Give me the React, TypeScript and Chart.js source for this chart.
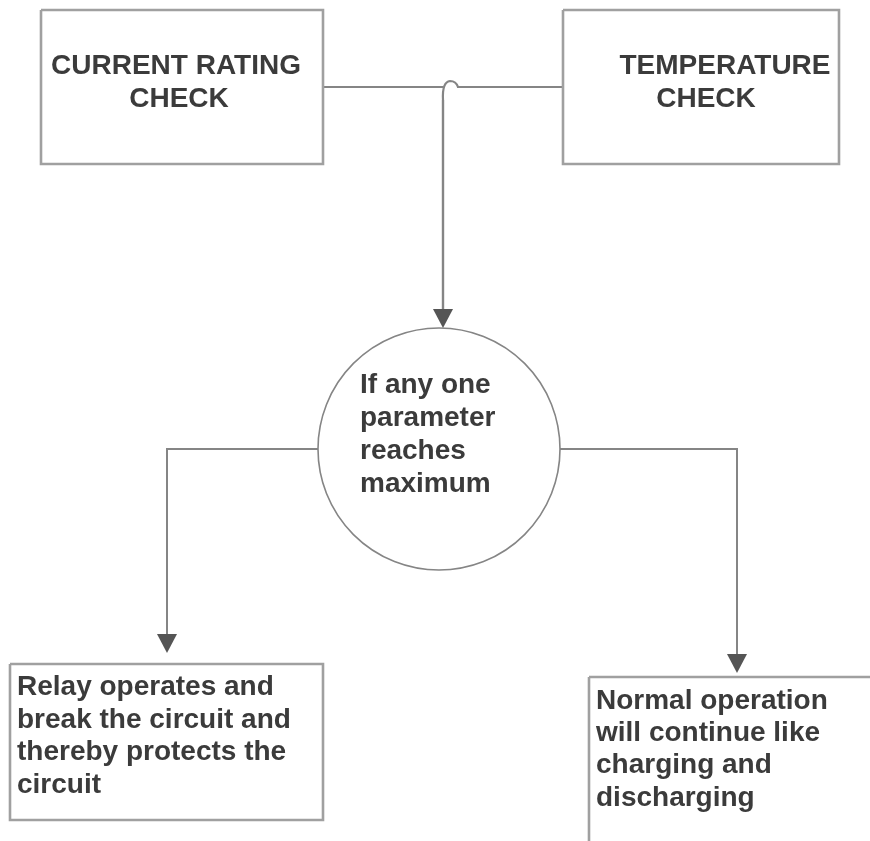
import React, { useEffect, useRef } from 'react';
import { Chart, registerables } from 'chart.js';

Chart.register(...registerables);

const W = 870;
const H = 841;

// Process boxes (diagram units = pixels of the 870x841 sheet)
const boxNames = ['current', 'temperature', 'relay', 'normal'];
const boxX1 = [41, 563, 10, 589];
const boxY1 = [10, 10, 664, 677];
const boxX2 = [323, 839, 323, 885];
const boxY2 = [164, 164, 820, 860];

// Decision circle
const circleCenter = [439, 449];
const circleRadius = 121;

// Connectors (polylines)
const linkLeftX = [323, 443];
const linkLeftY = [87, 87];
const linkRightX = [457, 563];
const linkRightY = [87, 87];
// line hop: start on drop, control, crest, control, end on link
const hopX = [443, 442, 450, 456, 458];
const hopY = [100, 82, 81, 81, 87];
const dropX = [443, 443];
const dropY = [100, 312];
const branchLeftX = [318, 167, 167];
const branchLeftY = [449, 449, 637];
const branchRightX = [560, 737, 737];
const branchRightY = [449, 449, 657];

// Arrow tips
const arrowX = [443, 167, 737];
const arrowY = [328, 653, 673];

// Labels
const labelText = [
  'CURRENT RATING', 'CHECK',
  'TEMPERATURE', 'CHECK',
  'If any one', 'parameter', 'reaches', 'maximum',
  'Relay operates and', 'break the circuit and', 'thereby protects the', 'circuit',
  'Normal operation', 'will continue like', 'charging and', 'discharging',
];
const labelX = [
  176, 179,
  725, 706,
  360, 360, 360, 360,
  17, 17, 17, 17,
  596, 596, 596, 596,
];
const labelY = [
  74, 107,
  74, 107,
  393, 426, 459, 492,
  695, 728, 760, 793,
  709, 741, 773, 806,
];
const labelAlign = [
  'center', 'center',
  'center', 'center',
  'left', 'left', 'left', 'left',
  'left', 'left', 'left', 'left',
  'left', 'left', 'left', 'left',
];

const LINE = '#858585';
const BOX = '#a0a0a0';
const TEXT = '#3b3b3b';

function pts(xs: number[], ys: number[]) {
  return xs.map((x, i) => ({ x, y: ys[i] }));
}

function rect(i: number) {
  return [
    { x: boxX1[i], y: boxY1[i] },
    { x: boxX2[i], y: boxY1[i] },
    { x: boxX2[i], y: boxY2[i] },
    { x: boxX1[i], y: boxY2[i] },
    { x: boxX1[i], y: boxY1[i] },
  ];
}

const diagramPlugin = {
  id: 'diagram',
  afterDatasetsDraw(chart: any) {
    const ctx = chart.ctx;
    const xs = chart.scales.x;
    const ys = chart.scales.y;
    const px = (v: number) => xs.getPixelForValue(v);
    const py = (v: number) => ys.getPixelForValue(v);
    ctx.save();

    // decision circle
    const cx = px(circleCenter[0]);
    const cy = py(circleCenter[1]);
    const r = px(circleCenter[0] + circleRadius) - cx;
    ctx.beginPath();
    ctx.arc(cx, cy, r, 0, Math.PI * 2);
    ctx.strokeStyle = LINE;
    ctx.lineWidth = 1.6;
    ctx.stroke();

    // line hop
    ctx.beginPath();
    ctx.moveTo(px(hopX[0]), py(hopY[0]));
    ctx.quadraticCurveTo(px(hopX[1]), py(hopY[1]), px(hopX[2]), py(hopY[2]));
    ctx.quadraticCurveTo(px(hopX[3]), py(hopY[3]), px(hopX[4]), py(hopY[4]));
    ctx.lineWidth = 2.2;
    ctx.stroke();

    // arrow heads
    ctx.fillStyle = '#555555';
    for (let i = 0; i < arrowX.length; i++) {
      const ax = px(arrowX[i]);
      const ay = py(arrowY[i]);
      ctx.beginPath();
      ctx.moveTo(ax, ay);
      ctx.lineTo(ax - 10, ay - 19);
      ctx.lineTo(ax + 10, ay - 19);
      ctx.closePath();
      ctx.fill();
    }

    // labels
    ctx.fillStyle = TEXT;
    ctx.font = 'bold 28px "Liberation Sans", Arial, sans-serif';
    ctx.textBaseline = 'alphabetic';
    for (let i = 0; i < labelText.length; i++) {
      ctx.textAlign = labelAlign[i];
      ctx.fillText(labelText[i], px(labelX[i]), py(labelY[i]));
    }
    ctx.restore();
  },
};

export default function App() {
  const ref = useRef<HTMLCanvasElement | null>(null);

  useEffect(() => {
    if (!ref.current) return;
    const lineDs = (label: string, data: any[], color: string, width: number) => ({
      type: 'line',
      label,
      data,
      borderColor: color,
      borderWidth: width,
      pointRadius: 0,
      fill: false,
      tension: 0,
      showLine: true,
    });
    const datasets: any[] = [
      ...boxNames.map((n, i) => lineDs(n, rect(i), BOX, 2.6)),
      lineDs('linkLeft', pts(linkLeftX, linkLeftY), LINE, 2),
      lineDs('linkRight', pts(linkRightX, linkRightY), LINE, 2),
      lineDs('drop', pts(dropX, dropY), LINE, 2.4),
      lineDs('branchLeft', pts(branchLeftX, branchLeftY), LINE, 2),
      lineDs('branchRight', pts(branchRightX, branchRightY), LINE, 2),
    ];
    const chart = new Chart(ref.current, {
      type: 'scatter',
      data: { datasets },
      options: {
        animation: false,
        responsive: false,
        maintainAspectRatio: false,
        layout: { padding: 0 },
        plugins: { legend: { display: false }, tooltip: { enabled: false } },
        scales: {
          x: { type: 'linear', min: 0, max: W, display: false },
          y: { type: 'linear', min: 0, max: H, reverse: true, display: false },
        },
      },
      plugins: [diagramPlugin],
    } as any);
    return () => chart.destroy();
  }, []);

  return (
    <div style={{ position: 'absolute', left: 0, top: 0, width: W, height: H, background: '#ffffff' }}>
      <canvas ref={ref} width={W} height={H} style={{ display: 'block' }} />
    </div>
  );
}
